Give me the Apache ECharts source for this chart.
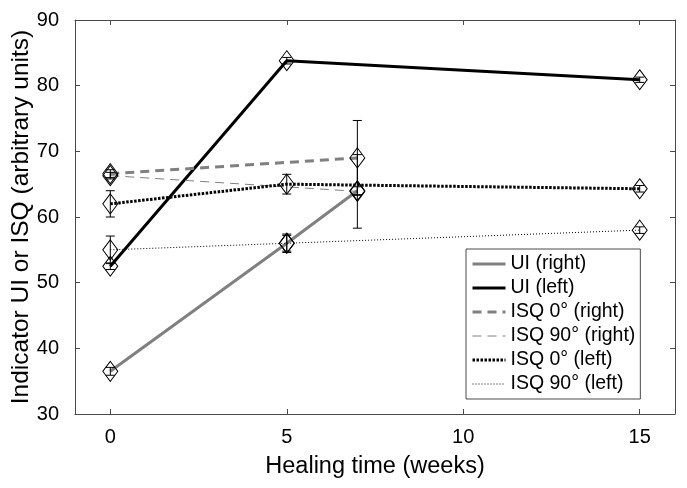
<!DOCTYPE html>
<html>
<head>
<meta charset="utf-8">
<script src="https://cdn.jsdelivr.net/npm/echarts@6/dist/echarts.min.js"></script>
<style>html,body{margin:0;padding:0;background:#fff}#c{width:687px;height:488px}</style>
</head>
<body>
<div id="c"></div>
<script>
// ---- data ----
const xTicks = [0, 5, 10, 15];
const yTicks = [30, 40, 50, 60, 70, 80, 90];

const uiRightWeeks = [0, 5, 7];
const uiRightVals  = [36.5, 56.0, 64.0];
const uiRightErr   = [0.6, 1.4, 0.6];

const uiLeftWeeks = [0, 5, 15];
const uiLeftVals  = [52.5, 83.8, 80.9];
const uiLeftErr   = [0.5, 0.5, 0.4];

const isq0RightWeeks = [0, 7];
const isq0RightVals  = [66.6, 69.0];
const isq0RightErr   = [0.6, 5.7];

const isq90RightWeeks = [0, 7];
const isq90RightVals  = [66.3, 63.9];
const isq90RightErr   = [0.5, 5.6];

const isq0LeftWeeks = [0, 5, 15];
const isq0LeftVals  = [62.0, 65.0, 64.3];
const isq0LeftErr   = [2.0, 1.5, 0.5];

const isq90LeftWeeks = [0, 5, 15];
const isq90LeftVals  = [55.0, 56.0, 58.0];
const isq90LeftErr   = [2.1, 1.2, 0.5];

const seriesNames = ['UI (right)', 'UI (left)', 'ISQ 0° (right)', 'ISQ 90° (right)', 'ISQ 0° (left)', 'ISQ 90° (left)'];

// ---- build ----
const GRAY = '#808080', BLACK = '#000000', AX = '#4a4a4a';
const FONT = '"Liberation Sans", Arial, sans-serif';

const defs = [
  {name: seriesNames[0], w: uiRightWeeks, v: uiRightVals, e: uiRightErr, color: GRAY, width: 3, type: 'solid'},
  {name: seriesNames[1], w: uiLeftWeeks, v: uiLeftVals, e: uiLeftErr, color: BLACK, width: 3, type: 'solid'},
  {name: seriesNames[2], w: isq0RightWeeks, v: isq0RightVals, e: isq0RightErr, color: GRAY, width: 3, type: [9, 6]},
  {name: seriesNames[3], w: isq90RightWeeks, v: isq90RightVals, e: isq90RightErr, color: GRAY, width: 1, type: [9, 6]},
  {name: seriesNames[4], w: isq0LeftWeeks, v: isq0LeftVals, e: isq0LeftErr, color: BLACK, width: 3, type: [2.5, 1.5]},
  {name: seriesNames[5], w: isq90LeftWeeks, v: isq90LeftVals, e: isq90LeftErr, color: BLACK, width: 1, type: [1, 2]}
];

function errRender(params, api) {
  const x = api.value(0), lo = api.value(1), hi = api.value(2);
  const p1 = api.coord([x, lo]), p2 = api.coord([x, hi]);
  const w = 4.5;
  const style = {stroke: '#000', lineWidth: 1, fill: null};
  return {type: 'group', children: [
    {type: 'line', shape: {x1: p1[0], y1: p1[1], x2: p2[0], y2: p2[1]}, style: style},
    {type: 'line', shape: {x1: p1[0] - w, y1: p1[1], x2: p1[0] + w, y2: p1[1]}, style: style},
    {type: 'line', shape: {x1: p2[0] - w, y1: p2[1], x2: p2[0] + w, y2: p2[1]}, style: style}
  ]};
}

const series = [];
defs.forEach(function (d) {
  series.push({
    type: 'custom', name: d.name + ' err', renderItem: errRender,
    data: d.w.map(function (x, i) { return [x, d.v[i] - d.e[i], d.v[i] + d.e[i]]; }),
    encode: {x: 0, y: [1, 2]}, z: 3, silent: true
  });
});
defs.forEach(function (d) {
  series.push({
    type: 'line', name: d.name,
    data: d.w.map(function (x, i) { return [x, d.v[i]]; }),
    symbol: 'diamond', symbolSize: [15, 20], showAllSymbol: true,
    itemStyle: {color: 'rgba(0,0,0,0)', borderColor: '#000', borderWidth: 1},
    lineStyle: {color: d.color, width: d.width, type: d.type, cap: 'butt'},
    z: 2, animation: false, emphasis: {disabled: true}
  });
});

const option = {
  animation: false,
  backgroundColor: '#fff',
  grid: {left: 75, right: 12, top: 20, bottom: 74, containLabel: false, outerBoundsMode: 'none'},
  legend: {
    orient: 'vertical', left: 466, top: 249,
    data: seriesNames,
    itemWidth: 33, itemHeight: 14, itemGap: 4,
    padding: [5, 5, 5, 5],
    backgroundColor: '#fff', borderColor: AX, borderWidth: 1,
    textStyle: {fontFamily: FONT, fontSize: 19.5, color: '#000'},
    itemStyle: {opacity: 0},
    lineStyle: {width: 'inherit'},
    selectedMode: false
  },
  xAxis: [
    {type: 'value', min: -1, max: 16, position: 'bottom',
     name: 'Healing time (weeks)', nameLocation: 'middle', nameGap: 41,
     nameTextStyle: {fontFamily: FONT, fontSize: 23.5, color: '#000'},
     axisLine: {show: true, onZero: false, lineStyle: {color: AX, width: 1}},
     axisTick: {show: true, inside: true, length: 5, customValues: xTicks, lineStyle: {color: AX}},
     axisLabel: {customValues: xTicks, fontFamily: FONT, fontSize: 20, color: '#000', margin: 13},
     splitLine: {show: false}},
    {type: 'value', min: -1, max: 16, position: 'top',
     axisLine: {show: true, onZero: false, lineStyle: {color: AX, width: 1}},
     axisTick: {show: true, inside: true, length: 5, customValues: xTicks, lineStyle: {color: AX}},
     axisLabel: {show: false}, splitLine: {show: false}}
  ],
  yAxis: [
    {type: 'value', min: 30, max: 90, interval: 10, position: 'left',
     name: 'Indicator UI or ISQ (arbitrary units)', nameLocation: 'middle', nameGap: 41,
     nameMoveOverlap: false,
     nameTextStyle: {fontFamily: FONT, fontSize: 24.5, color: '#000'},
     axisLine: {show: true, onZero: false, lineStyle: {color: AX, width: 1}},
     axisTick: {show: true, inside: true, length: 5, lineStyle: {color: AX}},
     axisLabel: {fontFamily: FONT, fontSize: 20, color: '#000', margin: 16},
     splitLine: {show: false}},
    {type: 'value', min: 30, max: 90, interval: 10, position: 'right',
     axisLine: {show: true, onZero: false, lineStyle: {color: AX, width: 1}},
     axisTick: {show: true, inside: true, length: 5, lineStyle: {color: AX}},
     axisLabel: {show: false}, splitLine: {show: false}}
  ],
  series: series
};

const chart = echarts.init(document.getElementById('c'), null, {renderer: 'canvas'});
chart.setOption(option);
</script>
</body>
</html>
